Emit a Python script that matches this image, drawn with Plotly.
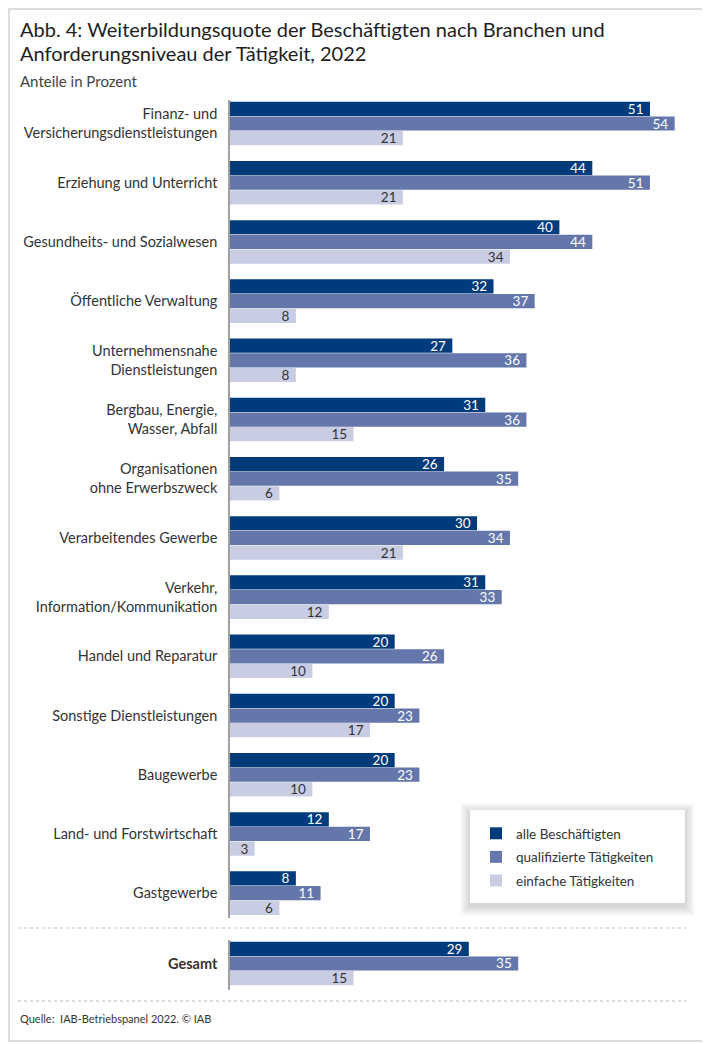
import plotly.graph_objects as go

# Daten
branchen = [
    "Finanz- und<br>Versicherungsdienstleistungen",
    "Erziehung und Unterricht",
    "Gesundheits- und Sozialwesen",
    "Öffentliche Verwaltung",
    "Unternehmensnahe<br>Dienstleistungen",
    "Bergbau, Energie,<br>Wasser, Abfall",
    "Organisationen<br>ohne Erwerbszweck",
    "Verarbeitendes Gewerbe",
    "Verkehr,<br>Information/Kommunikation",
    "Handel und Reparatur",
    "Sonstige Dienstleistungen",
    "Baugewerbe",
    "Land- und Forstwirtschaft",
    "Gastgewerbe",
]
alle = [51, 44, 40, 32, 27, 31, 26, 30, 31, 20, 20, 20, 12, 8]
qualifiziert = [54, 51, 44, 37, 36, 36, 35, 34, 33, 26, 23, 23, 17, 11]
einfach = [21, 21, 34, 8, 8, 15, 6, 21, 12, 10, 17, 10, 3, 6]

gesamt_label = ["<b>Gesamt</b>"]
gesamt_alle = [29]
gesamt_qualifiziert = [35]
gesamt_einfach = [15]

serien = ["alle Beschäftigten", "qualifizierte Tätigkeiten", "einfache Tätigkeiten"]
farben = ["#003b7b", "#6476aa", "#c8cde4"]
textfarben = ["white", "white", "#333333"]

FONT = "Lato"
# die Seite hat 8px Rand, darum ist die Figur etwas kleiner als das Fenster
O = 8
W, H = 702, 1036
L, R, T, B = 222, 23, 92, 54
PW, PH = W - L - R, H - T - B


def px(x):
    # x-Pixel im Fenster -> paper
    return (x - O - L) / PW


def py(y):
    # y-Pixel im Fenster -> paper
    return (H - B - (y - O)) / PH


fig = go.Figure()

for name, werte, g, farbe, tf in zip(
        serien, [alle, qualifiziert, einfach],
        [gesamt_alle, gesamt_qualifiziert, gesamt_einfach], farben, textfarben):
    fig.add_trace(go.Bar(
        y=branchen, x=werte, name=name, orientation="h", legendgroup=name,
        marker=dict(color=farbe, line=dict(width=0)),
        texttemplate="%{x}\u00a0", textposition="inside",
        insidetextanchor="end", textangle=0,
        textfont=dict(color=tf, size=13.5, family=FONT),
        xaxis="x", yaxis="y", hoverinfo="x+name",
    ))
    fig.add_trace(go.Bar(
        y=gesamt_label, x=g, name=name, orientation="h", showlegend=False,
        legendgroup=name,
        marker=dict(color=farbe, line=dict(width=0)),
        texttemplate="%{x}\u00a0", textposition="inside",
        insidetextanchor="end", textangle=0,
        textfont=dict(color=tf, size=13.5, family=FONT),
        xaxis="x2", yaxis="y2", hoverinfo="x+name",
    ))

achse_x = dict(range=[0, 55.5], showgrid=False, zeroline=False,
               showticklabels=False, showline=False, fixedrange=True)
achse_y = dict(type="category", showgrid=False, zeroline=False, ticks="",
               showline=True, linecolor="#a0a0a0", linewidth=1.5,
               tickfont=dict(size=14.5, color="#333333", family=FONT),
               ticklabelstandoff=8, fixedrange=True)

shapes = [
    # Rahmen
    dict(type="rect", xref="paper", yref="paper",
         x0=px(9), x1=px(707), y0=py(1041), y1=py(9),
         line=dict(color="#dcdcdc", width=2), layer="below"),
    # gepunktete Trennlinien
    dict(type="line", xref="paper", yref="paper",
         x0=px(18), x1=px(686), y0=py(928), y1=py(928),
         line=dict(color="#bdbdbd", width=1, dash="dot")),
    dict(type="line", xref="paper", yref="paper",
         x0=px(18), x1=px(686), y0=py(1001), y1=py(1001),
         line=dict(color="#bdbdbd", width=1, dash="dot")),
]
# weicher Schatten der Legende
for d in range(10, 0, -1):
    shapes.append(dict(type="rect", xref="paper", yref="paper",
                       x0=px(470 - d), x1=px(685 + d),
                       y0=py(903 + d + 3), y1=py(810 - d + 3),
                       fillcolor="rgba(0,0,0,0.014)", line=dict(width=0)))
shapes.append(dict(type="rect", xref="paper", yref="paper",
                   x0=px(470), x1=px(685), y0=py(903), y1=py(810),
                   fillcolor="white", line=dict(width=0)))

annotations = [
    dict(text="Abb. 4: Weiterbildungsquote der Beschäftigten nach Branchen und",
         x=px(18), y=py(29), xanchor="left", yanchor="middle",
         font=dict(size=20, color="#1e1e1e", family=FONT)),
    dict(text="Anforderungsniveau der Tätigkeit, 2022",
         x=px(18), y=py(53), xanchor="left", yanchor="middle",
         font=dict(size=20, color="#1e1e1e", family=FONT)),
    dict(text="Anteile in Prozent",
         x=px(18), y=py(81), xanchor="left", yanchor="middle",
         font=dict(size=15, color="#444444", family=FONT)),
    dict(text="Quelle:  IAB-Betriebspanel 2022. © IAB",
         x=px(18), y=py(1019), xanchor="left", yanchor="middle",
         font=dict(size=11, color="#333333", family=FONT)),
]
for a in annotations:
    a.update(xref="paper", yref="paper", showarrow=False)

fig.update_layout(
    width=W, height=H,
    margin=dict(l=L, r=R, t=T, b=B),
    paper_bgcolor="white", plot_bgcolor="white",
    font=dict(family=FONT, color="#333333"),
    barmode="group", bargap=0.257, bargroupgap=0.03,
    uniformtext=dict(minsize=12, mode="show"),
    xaxis=dict(achse_x, anchor="y"),
    xaxis2=dict(achse_x, anchor="y2"),
    yaxis=dict(achse_y, domain=[py(918), 1], range=[13.42, -0.397]),
    yaxis2=dict(achse_y, domain=[0, py(940)], range=[0.448, -0.397]),
    legend=dict(x=px(476), y=py(818), xanchor="left", yanchor="top",
                bgcolor="rgba(0,0,0,0)", borderwidth=0,
                font=dict(size=13.5, color="#333333", family=FONT),
                traceorder="grouped", tracegroupgap=3),
    shapes=shapes,
    annotations=annotations,
    showlegend=True,
)

fig.write_html("out.html")
